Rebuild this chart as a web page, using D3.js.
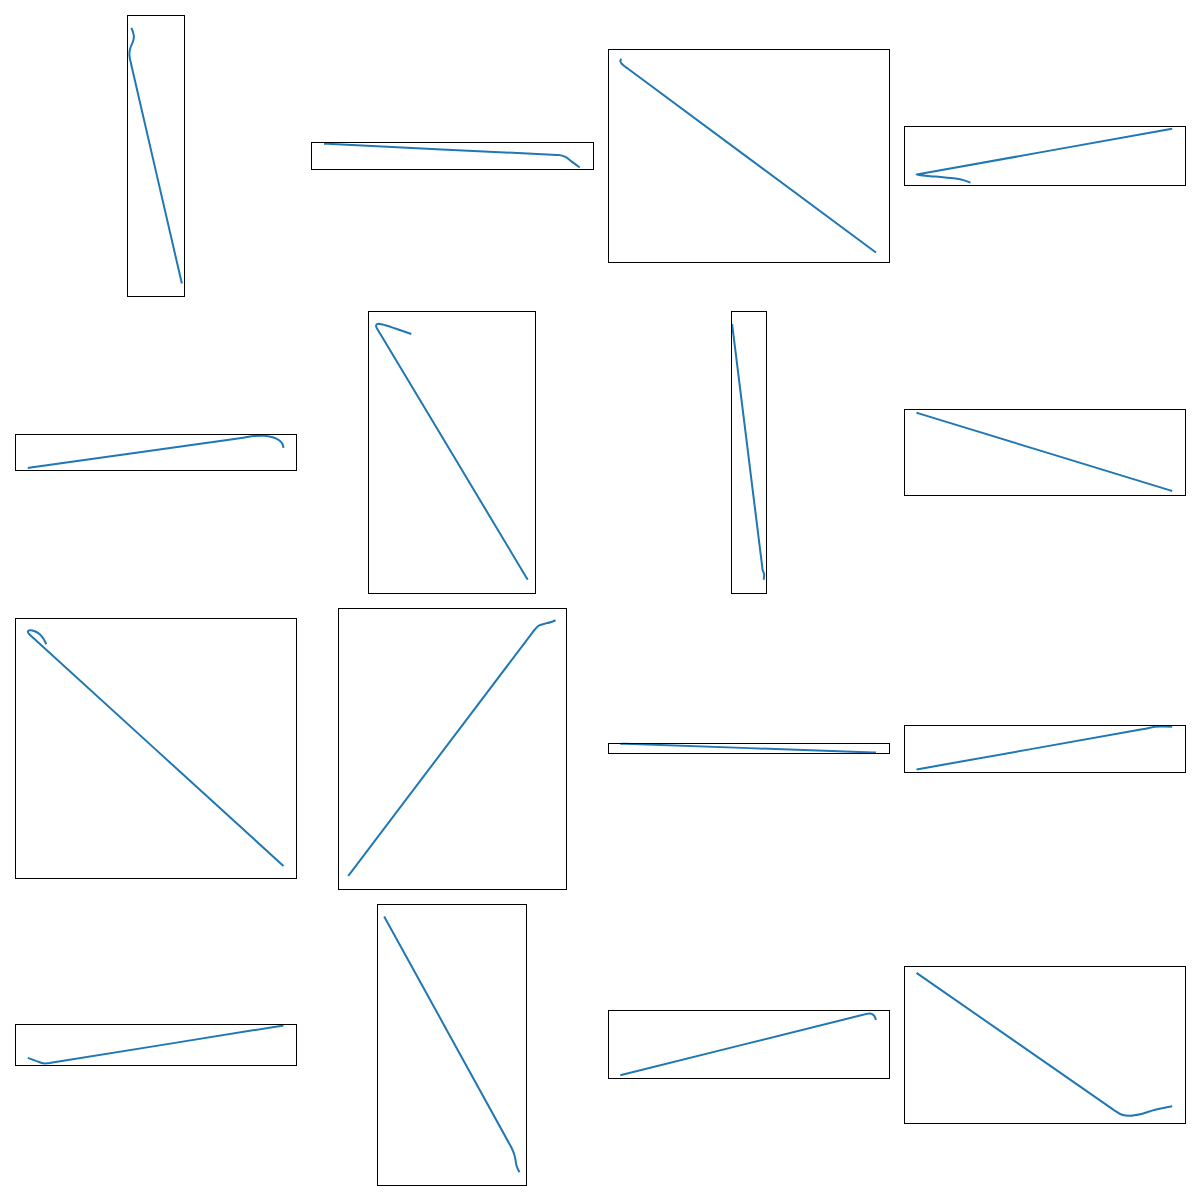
<!DOCTYPE html>
<html>
<head>
<meta charset="utf-8">
<script src="https://cdn.jsdelivr.net/npm/d3@7"></script>
<style>
  html, body { margin: 0; padding: 0; background: #fff; }
  svg { display: block; }
</style>
</head>
<body>
<svg id="chart" width="1200" height="1200"></svg>
<script>
// Curve data for each of the 16 panels: [x, y] pairs (y upward)
const curve00 = [[116.5,269],[118,265],[119,260],[118,255],[115.5,249],[114.5,243],[115,238],[167,13]];
const curve01 = [[11.7,152.5],[248.7,141],[254.7,139],[260.7,134.5],[268.7,128.5]];
const curve02 = [[13.3,237.5],[12.3,235],[13.8,232.5],[17.3,229.5],[268.3,43.5]];
const curve03 = [[268,167.5],[12,121.5],[31,119.5],[51,117.5],[59,116],[66,113.5]];
const curve10 = [[13,124.3],[230,154.8],[240,156.3],[250,156.5],[259,154.8],[265,151.8],[268,148.3],[269,144.3]];
const curve11 = [[99.7,259.3],[83.7,264.8],[70.7,268.8],[65.2,269.3],[64.2,267.3],[66.7,262.3],[216.7,12.3]];
const curve12 = [[124.3,268.3],[154.8,22.3],[156.3,18.3],[155.8,12.8]];
const curve13 = [[13,179.3],[268,101.3]];
const curve20 = [[31.5,244.7],[29,249.7],[25,254.7],[20,257.7],[15,258.7],[13,257.2],[15,254.2],[269,22.7]];
const curve21 = [[36.7,12.2],[223.7,259.2],[227.7,263.2],[233.7,265.2],[239.7,266.7],[244.7,268.7]];
const curve22 = [[13.1,144.7],[15.3,145.1],[268.3,136.2]];
const curve23 = [[13,119.2],[241,159.7],[251,161.7],[268,161.7]];
const curve30 = [[12.8,127.5],[21,124.5],[28,122],[33,122],[269,160]];
const curve31 = [[72.5,269],[199.7,38],[202.7,31],[204.2,25],[205.2,19],[208.2,12.5]];
const curve32 = [[13.3,110],[258.3,171],[262.3,171.5],[266.3,169.5],[268.3,165]];
const curve33 = [[13,212],[211,74.5],[218,70.5],[226,69.5],[236,71],[251,75.5],[268,79]];

const panels = [
  curve00, curve01, curve02, curve03,
  curve10, curve11, curve12, curve13,
  curve20, curve21, curve22, curve23,
  curve30, curve31, curve32, curve33
];

const svg = d3.select("#chart");
svg.append("rect").attr("width", 1200).attr("height", 1200).attr("fill", "#fff");

const nCols = 4, margin = 15, gap = 15;
const cell = (1200 - 2 * margin - (nCols - 1) * gap) / nCols;

// keep long straight stretches straight when smoothing the curls
function screenPoints(pts, xs, ys) {
  const out = [];
  for (let j = 0; j < pts.length; j++) {
    const p = [xs(pts[j][0]), ys(pts[j][1])];
    if (j > 0) {
      const q = out[out.length - 1];
      const len = Math.hypot(p[0] - q[0], p[1] - q[1]);
      if (len > 30) {
        const t = 3 / len;
        out.push([q[0] + (p[0] - q[0]) * t, q[1] + (p[1] - q[1]) * t]);
        out.push([p[0] - (p[0] - q[0]) * t, p[1] - (p[1] - q[1]) * t]);
      }
    }
    out.push(p);
  }
  return out;
}

panels.forEach((pts, i) => {
  const row = Math.floor(i / nCols), col = i % nCols;
  const cx0 = margin + col * (cell + gap);
  const cy0 = margin + row * (cell + gap);

  const [xmin, xmax] = d3.extent(pts, d => d[0]);
  const [ymin, ymax] = d3.extent(pts, d => d[1]);
  const dx = xmax - xmin, dy = ymax - ymin;
  const x0 = xmin - 0.05 * dx, x1 = xmax + 0.05 * dx;
  const y0 = ymin - 0.05 * dy, y1 = ymax + 0.05 * dy;
  const W = x1 - x0, H = y1 - y0;
  const k = Math.min(cell / W, cell / H);
  const bw = k * W, bh = k * H;
  const bx = cx0 + (cell - bw) / 2;
  const by = cy0 + (cell - bh) / 2;

  const xs = d3.scaleLinear().domain([x0, x1]).range([bx, bx + bw]);
  const ys = d3.scaleLinear().domain([y0, y1]).range([by + bh, by]);

  const g = svg.append("g");

  const line = d3.line().curve(d3.curveCatmullRom.alpha(0.5));

  g.append("path")
    .attr("d", line(screenPoints(pts, xs, ys)))
    .attr("fill", "none")
    .attr("stroke", "#1f77b4")
    .attr("stroke-width", 2)
    .attr("stroke-linejoin", "round")
    .attr("stroke-linecap", "butt");

  const rx = Math.round(bx) + 0.5, ry = Math.round(by) + 0.5;
  const rx2 = Math.round(bx + bw) + 0.5, ry2 = Math.round(by + bh) + 0.5;
  g.append("rect")
    .attr("x", rx).attr("y", ry)
    .attr("width", rx2 - rx).attr("height", ry2 - ry)
    .attr("fill", "none")
    .attr("stroke", "#000")
    .attr("stroke-width", 1);
});
</script>
</body>
</html>
